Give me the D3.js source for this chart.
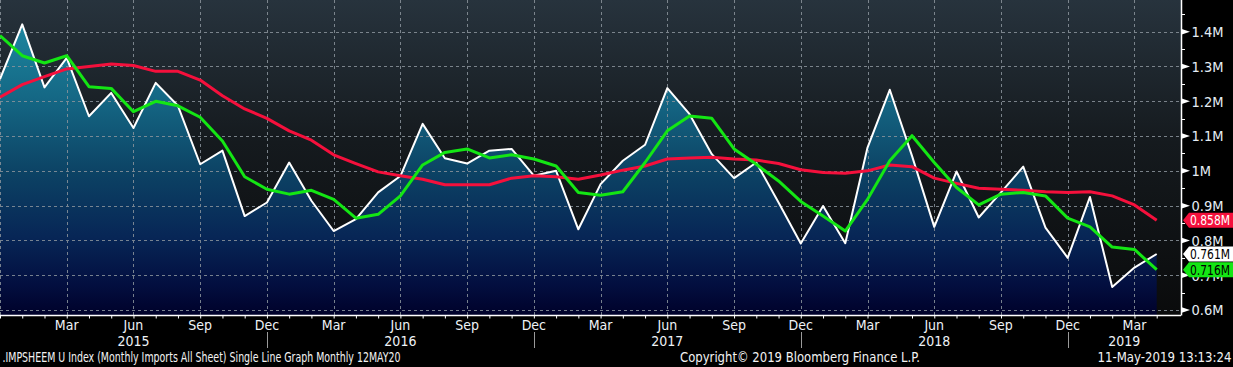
<!DOCTYPE html>
<html>
<head>
<meta charset="utf-8">
<script src="https://cdn.jsdelivr.net/npm/d3@7"></script>
<style>
  html, body { margin: 0; padding: 0; background: #000; }
  svg { display: block; }
  text { font-family: "Liberation Sans Narrow", "Arial Narrow", "DejaVu Sans Condensed", sans-serif; }
</style>
</head>
<body>
<svg id="chart" width="1233" height="367"></svg>
<script>
// ---- Data ----
const months = [
  "2014-12",
  "2015-01","2015-02","2015-03","2015-04","2015-05","2015-06","2015-07","2015-08","2015-09","2015-10","2015-11","2015-12",
  "2016-01","2016-02","2016-03","2016-04","2016-05","2016-06","2016-07","2016-08","2016-09","2016-10","2016-11","2016-12",
  "2017-01","2017-02","2017-03","2017-04","2017-05","2017-06","2017-07","2017-08","2017-09","2017-10","2017-11","2017-12",
  "2018-01","2018-02","2018-03","2018-04","2018-05","2018-06","2018-07","2018-08","2018-09","2018-10","2018-11","2018-12",
  "2019-01","2019-02","2019-03","2019-04"
];
// Monthly imports (millions) - white line / area
const imports = [
  1.264,
  1.421,1.240,1.325,1.157,1.224,1.123,1.253,1.187,1.019,1.058,0.870,0.909,
  1.024,0.914,0.827,0.861,0.938,0.985,1.135,1.036,1.021,1.058,1.063,0.986,
  1.000,0.832,0.962,1.029,1.075,1.238,1.163,1.048,0.979,1.024,0.909,0.791,
  0.899,0.792,1.067,1.233,1.043,0.839,0.998,0.866,0.938,1.012,0.837,0.750,
  0.925,0.666,0.722,0.761
];
// Short moving average - green line
const avgShort = [
  1.389,
  1.331,1.310,1.331,1.242,1.237,1.170,1.200,1.187,1.154,1.086,0.983,0.947,
  0.933,0.944,0.918,0.864,0.875,0.928,1.017,1.053,1.063,1.037,1.046,1.034,
  1.014,0.938,0.930,0.940,1.024,1.115,1.158,1.151,1.063,1.019,0.971,0.912,
  0.870,0.827,0.918,1.029,1.101,1.024,0.952,0.902,0.933,0.938,0.928,0.864,
  0.839,0.781,0.774,0.716
];
// Long moving average - red line
const avgLong = [
  1.212,
  1.248,1.271,1.293,1.300,1.307,1.303,1.286,1.286,1.261,1.216,1.178,1.151,
  1.115,1.088,1.046,1.021,0.997,0.986,0.976,0.960,0.960,0.960,0.979,0.986,
  0.983,0.976,0.988,1.002,1.014,1.034,1.037,1.039,1.034,1.031,1.021,1.003,
  0.995,0.993,1.000,1.017,1.012,0.979,0.964,0.950,0.947,0.944,0.940,0.938,
  0.940,0.928,0.902,0.858
];
const yTicks = [0.6, 0.7, 0.8, 0.9, 1.0, 1.1, 1.2, 1.3, 1.4];
const yMinorTicks = [0.65, 0.75, 0.85, 0.95, 1.05, 1.15, 1.25, 1.35, 1.45];
const monthNames = ["Jan","Feb","Mar","Apr","May","Jun","Jul","Aug","Sep","Oct","Nov","Dec"];
const years = ["2015","2016","2017","2018","2019"];
const footerLeft = ".IMPSHEEM U Index (Monthly Imports All Sheet) Single Line Graph  Monthly 12MAY20";
const footerMid = "Copyright\u00A9 2019 Bloomberg Finance L.P.";
const footerRight = "11-May-2019 13:13:24";

// ---- Layout ----
const W = 1233, H = 367;
const plotRight = 1181, plotBottom = 315.5;
const svg = d3.select("#chart");

const x = d3.scaleLinear().domain([0, months.length - 1]).range([0, 1156.7]);
const y = d3.scaleLinear().domain([0.6, 1.4]).range([310, 31.7]);

const defs = svg.append("defs");
const bg = defs.append("linearGradient").attr("id", "bg")
  .attr("gradientUnits", "userSpaceOnUse").attr("x1", 0).attr("y1", 0).attr("x2", 0).attr("y2", plotBottom);
[[0, "#27333d"], [0.45, "#151a1e"], [1, "#0a0b0c"]].forEach(s =>
  bg.append("stop").attr("offset", s[0]).attr("stop-color", s[1]));
const ag = defs.append("linearGradient").attr("id", "areaGrad")
  .attr("gradientUnits", "userSpaceOnUse").attr("x1", 0).attr("y1", 0).attr("x2", 0).attr("y2", plotBottom);
[[0, "#1f90a8"], [0.3, "#156986"], [0.55, "#0c4264"], [0.75, "#072656"], [0.9, "#030f40"], [1, "#00012a"]].forEach(s =>
  ag.append("stop").attr("offset", s[0]).attr("stop-color", s[1]));

svg.append("rect").attr("width", W).attr("height", H).attr("fill", "#000");
svg.append("rect").attr("x", 0).attr("y", 0).attr("width", plotRight).attr("height", plotBottom).attr("fill", "url(#bg)");

// Area under imports
const idx = d3.range(months.length);
svg.append("path").datum(idx)
  .attr("fill", "url(#areaGrad)")
  .attr("d", d3.area().x(i => x(i)).y0(plotBottom).y1(i => y(imports[i])));

// Grid
const grid = svg.append("g").attr("stroke", "#8b949c").attr("stroke-width", 1)
  .attr("stroke-dasharray", "3,3").attr("opacity", 0.85);
grid.selectAll("line.h").data(yTicks).join("line")
  .attr("x1", 0).attr("x2", plotRight)
  .attr("y1", d => Math.round(y(d)) + 0.5).attr("y2", d => Math.round(y(d)) + 0.5);
const quarterIdx = idx.filter(i => i % 3 === 0);
grid.selectAll("line.v").data(quarterIdx).join("line")
  .attr("x1", i => Math.round(x(i)) + 0.5).attr("x2", i => Math.round(x(i)) + 0.5)
  .attr("y1", 0).attr("y2", plotBottom);

// Lines
const lineGen = arr => d3.line().x(i => x(i)).y(i => y(arr[i]));
svg.append("path").datum(idx).attr("fill", "none").attr("stroke", "#ffffff")
  .attr("stroke-width", 2).attr("stroke-linejoin", "round").attr("d", lineGen(imports));
svg.append("path").datum(idx).attr("fill", "none").attr("stroke", "#f5103c")
  .attr("stroke-width", 3).attr("stroke-linejoin", "round").attr("d", lineGen(avgLong));
svg.append("path").datum(idx).attr("fill", "none").attr("stroke", "#14e614")
  .attr("stroke-width", 3).attr("stroke-linejoin", "round").attr("d", lineGen(avgShort));

// Bottom axis
const xAxis = d3.axisBottom(x).tickValues(idx).tickSize(3).tickFormat("");
const gx = svg.append("g").attr("transform", `translate(0,${plotBottom})`).call(xAxis);
gx.select(".domain").remove();
gx.selectAll(".tick line").attr("stroke", "#fff");
svg.append("line").attr("x1", 0).attr("x2", plotRight).attr("y1", plotBottom).attr("y2", plotBottom)
  .attr("stroke", "#fff").attr("stroke-width", 1.5);

// Month labels
const labelIdx = idx.filter(i => i % 3 === 0 && i > 0);
svg.selectAll("text.month").data(labelIdx).join("text")
  .attr("class", "month")
  .attr("x", i => x(i)).attr("y", 330)
  .attr("text-anchor", "middle").attr("fill", "#eef2f6").attr("font-size", 14)
  .text(i => monthNames[+months[i].slice(5) - 1]);

// Year separators and labels
const decIdx = idx.filter(i => months[i].endsWith("-12") && i > 0);
svg.selectAll("line.sep").data(decIdx).join("line")
  .attr("x1", i => Math.round(x(i)) + 0.5).attr("x2", i => Math.round(x(i)) + 0.5)
  .attr("y1", 332).attr("y2", 348).attr("stroke", "#9a9a9a").attr("stroke-width", 1);
const bounds = [0, ...decIdx.map(i => x(i)), plotRight];
svg.selectAll("text.year").data(years).join("text")
  .attr("x", (d, k) => (bounds[k] + bounds[k + 1]) / 2).attr("y", 345.5)
  .attr("text-anchor", "middle").attr("fill", "#eef2f6").attr("font-size", 14)
  .text(d => d);

// Right axis
const ax = svg.append("g");
ax.append("line").attr("x1", plotRight + 0.5).attr("x2", plotRight + 0.5).attr("y1", 0).attr("y2", plotBottom)
  .attr("stroke", "#fff").attr("stroke-width", 1.5);
ax.selectAll("line.minor").data(yMinorTicks).join("line")
  .attr("x1", plotRight).attr("x2", plotRight + 4)
  .attr("y1", d => Math.round(y(d)) + 0.5).attr("y2", d => Math.round(y(d)) + 0.5)
  .attr("stroke", "#fff").attr("stroke-width", 1);
ax.selectAll("path.arrow").data(yTicks).join("path")
  .attr("d", d => { const yy = y(d); return `M${plotRight},${yy - 3}L${plotRight + 9},${yy}L${plotRight},${yy + 3}Z`; })
  .attr("fill", "#fff");
ax.selectAll("text.ylab").data(yTicks).join("text")
  .attr("x", plotRight + 10.5).attr("y", d => y(d) + 5.3)
  .attr("fill", "#e4ecf4").attr("font-size", 14.5)
  .text(d => (d === 1 ? "1" : d3.format(".1f")(d)) + "M");

// Value tags
const last = months.length - 1;
const tags = [
  { v: avgLong[last], fill: "#f5103c", color: "#ffffff" },
  { v: imports[last], fill: "#ffffff", color: "#000000" },
  { v: avgShort[last], fill: "#14e614", color: "#000000" }
];
const tg = svg.append("g");
tags.forEach(t => {
  const yy = y(t.v);
  tg.append("path")
    .attr("d", `M${plotRight + 2},${yy}L${plotRight + 8},${yy - 7.5}L${W},${yy - 7.5}L${W},${yy + 7.5}L${plotRight + 8},${yy + 7.5}Z`)
    .attr("fill", t.fill);
  tg.append("text").attr("x", plotRight + 9).attr("y", yy + 5)
    .attr("fill", t.color).attr("font-size", 14)
    .attr("textLength", 40).attr("lengthAdjust", "spacingAndGlyphs")
    .text(d3.format(".3f")(t.v) + "M");
});

// Footer
svg.append("text").attr("x", 2.5).attr("y", 362).attr("fill", "#f2f2f2").attr("font-size", 14)
  .attr("textLength", 398).attr("lengthAdjust", "spacingAndGlyphs").text(footerLeft);
svg.append("text").attr("x", 680).attr("y", 362).attr("fill", "#f2f2f2").attr("font-size", 14)
  .attr("textLength", 240).attr("lengthAdjust", "spacingAndGlyphs").text(footerMid);
svg.append("text").attr("x", 1097.5).attr("y", 362).attr("fill", "#f2f2f2").attr("font-size", 14)
  .attr("textLength", 134).attr("lengthAdjust", "spacingAndGlyphs").text(footerRight);
</script>
</body>
</html>
